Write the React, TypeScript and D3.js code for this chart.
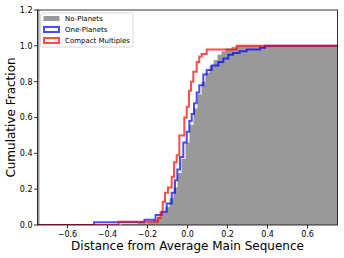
import React from 'react';
import * as d3 from 'd3';

// cumulative fraction at each step edge (x, fraction)
const noPlanetsX = [-0.75, -0.33, -0.25, -0.2, -0.17, -0.15, -0.13, -0.11, -0.09, -0.07, -0.05, -0.03, -0.01, 0.01, 0.03, 0.05, 0.07, 0.09, 0.11, 0.13, 0.15, 0.17, 0.19, 0.22, 0.25];
const noPlanetsY = [0, 0.005, 0.01, 0.02, 0.03, 0.045, 0.07, 0.1, 0.15, 0.21, 0.29, 0.37, 0.46, 0.56, 0.65, 0.73, 0.8, 0.85, 0.89, 0.92, 0.95, 0.97, 0.985, 0.995, 1.0];

const onePlanetsX = [-0.75, -0.4675, -0.215, -0.16, -0.13, -0.104, -0.079, -0.0625, -0.051, -0.0375, -0.021, -0.004, 0.009, 0.021, 0.0325, 0.046, 0.059, 0.079, 0.096, 0.121, 0.154, 0.179, 0.204, 0.2275, 0.26, 0.296, 0.3625, 0.3875];
const onePlanetsY = [0, 0.015, 0.03, 0.056, 0.074, 0.12, 0.18, 0.25, 0.31, 0.38, 0.46, 0.52, 0.58, 0.62, 0.68, 0.74, 0.78, 0.84, 0.865, 0.89, 0.91, 0.93, 0.95, 0.96, 0.97, 0.98, 0.99, 1.0];

const compactX = [-0.75, -0.345, -0.1475, -0.135, -0.124, -0.1125, -0.0975, -0.079, -0.0675, -0.054, -0.041, -0.016, -0.004, 0.0075, 0.0175, 0.029, 0.046, 0.059, 0.071, 0.096, 0.246];
const compactY = [0, 0.018, 0.04, 0.07, 0.13, 0.18, 0.21, 0.27, 0.35, 0.39, 0.5, 0.6, 0.66, 0.75, 0.8, 0.855, 0.91, 0.94, 0.955, 0.98, 1.0];

const xTicks = [-0.6, -0.4, -0.2, 0.0, 0.2, 0.4, 0.6];
const yTicks = [0.0, 0.2, 0.4, 0.6, 0.8, 1.0, 1.2];

const W = 344, H = 258;
const m = { left: 37.5, right: 6.5, top: 10, bottom: 33 };
const font = 'DejaVu Sans, sans-serif';

const x = d3.scaleLinear().domain([-0.75, 0.75]).range([m.left, W - m.right]);
const y = d3.scaleLinear().domain([0, 1.2]).range([H - m.bottom, m.top]);

const toPts = (xs: number[], ys: number[]): [number, number][] => {
  const pts: [number, number][] = xs.map((v, i) => [v, ys[i]]);
  pts.push([0.8, 1.0]);
  return [[-0.8, 0] as [number, number], ...pts];
};

const line = d3.line<[number, number]>().x(d => x(d[0])).y(d => y(d[1])).curve(d3.curveStepAfter);
const area = d3.area<[number, number]>().x(d => x(d[0])).y0(y(0)).y1(d => y(d[1])).curve(d3.curveStepAfter);

const fmt = (v: number) => d3.format('.1f')(v).replace('-', '\u2212');

export default function App() {
  const x0 = x.range()[0], x1 = x.range()[1], yb = y(0), yt = y(1.2);
  const legend = [
    { label: 'No-Planets', type: 'fill', color: '#999999' },
    { label: 'One-Planets', type: 'line', color: '#0000ff' },
    { label: 'Compact Multiples', type: 'line', color: '#ff0000' },
  ];
  return (
    <svg width={W} height={H} style={{ position: 'absolute', left: 0, top: 0, background: '#fff' }}>
      <defs>
        <clipPath id="plot">
          <rect x={x0} y={yt} width={x1 - x0} height={yb - yt} />
        </clipPath>
      </defs>
      <g clipPath="url(#plot)">
        <path d={area(toPts(noPlanetsX, noPlanetsY)) || ''} fill="#999999" />
        <line x1={x0 + 1} x2={x0 + 1} y1={yt} y2={yb} stroke="#999999" strokeWidth={2} />
        <path d={line(toPts(onePlanetsX, onePlanetsY)) || ''} fill="none" stroke="#0000ff" strokeOpacity={0.7} strokeWidth={2} />
        <path d={line(toPts(compactX, compactY)) || ''} fill="none" stroke="#ff0000" strokeOpacity={0.7} strokeWidth={2} />
      </g>
      <rect x={x0} y={yt} width={x1 - x0} height={yb - yt} fill="none" stroke="#000" strokeWidth={0.8} />
      {xTicks.map(t => (
        <g key={t}>
          <line x1={x(t)} x2={x(t)} y1={yb} y2={yb + 3.5} stroke="#000" strokeWidth={0.8} />
          <text x={x(t)} y={yb + 12} fontSize={8} fontFamily={font} textAnchor="middle">{fmt(t)}</text>
        </g>
      ))}
      {yTicks.map(t => (
        <g key={t}>
          <line x1={x0 - 3.5} x2={x0} y1={y(t)} y2={y(t)} stroke="#000" strokeWidth={0.8} />
          <text x={x0 - 5} y={y(t) + 2.9} fontSize={8} fontFamily={font} textAnchor="end">{fmt(t)}</text>
        </g>
      ))}
      <text x={(x0 + x1) / 2} y={249.5} fontSize={12} fontFamily={font} textAnchor="middle">Distance from Average Main Sequence</text>
      <text transform={`translate(15,${(yt + yb) / 2}) rotate(-90)`} fontSize={12} fontFamily={font} textAnchor="middle">Cumulative Fraction</text>
      <rect x={40.5} y={13} width={92.5} height={34} rx={2} fill="#fff" fillOpacity={0.8} stroke="#cccccc" strokeWidth={0.8} />
      {legend.map((l, i) => {
        const ly = 18 + i * 11;
        return (
          <g key={l.label}>
            {l.type === 'fill'
              ? <rect x={43.5} y={ly - 2} width={16} height={5} fill={l.color} />
              : <rect x={44} y={ly - 2} width={15} height={5} fill="none" stroke={l.color} strokeOpacity={0.7} strokeWidth={2} />}
            <text x={65} y={ly + 2.8} fontSize={7} fontFamily={font}>{l.label}</text>
          </g>
        );
      })}
    </svg>
  );
}
